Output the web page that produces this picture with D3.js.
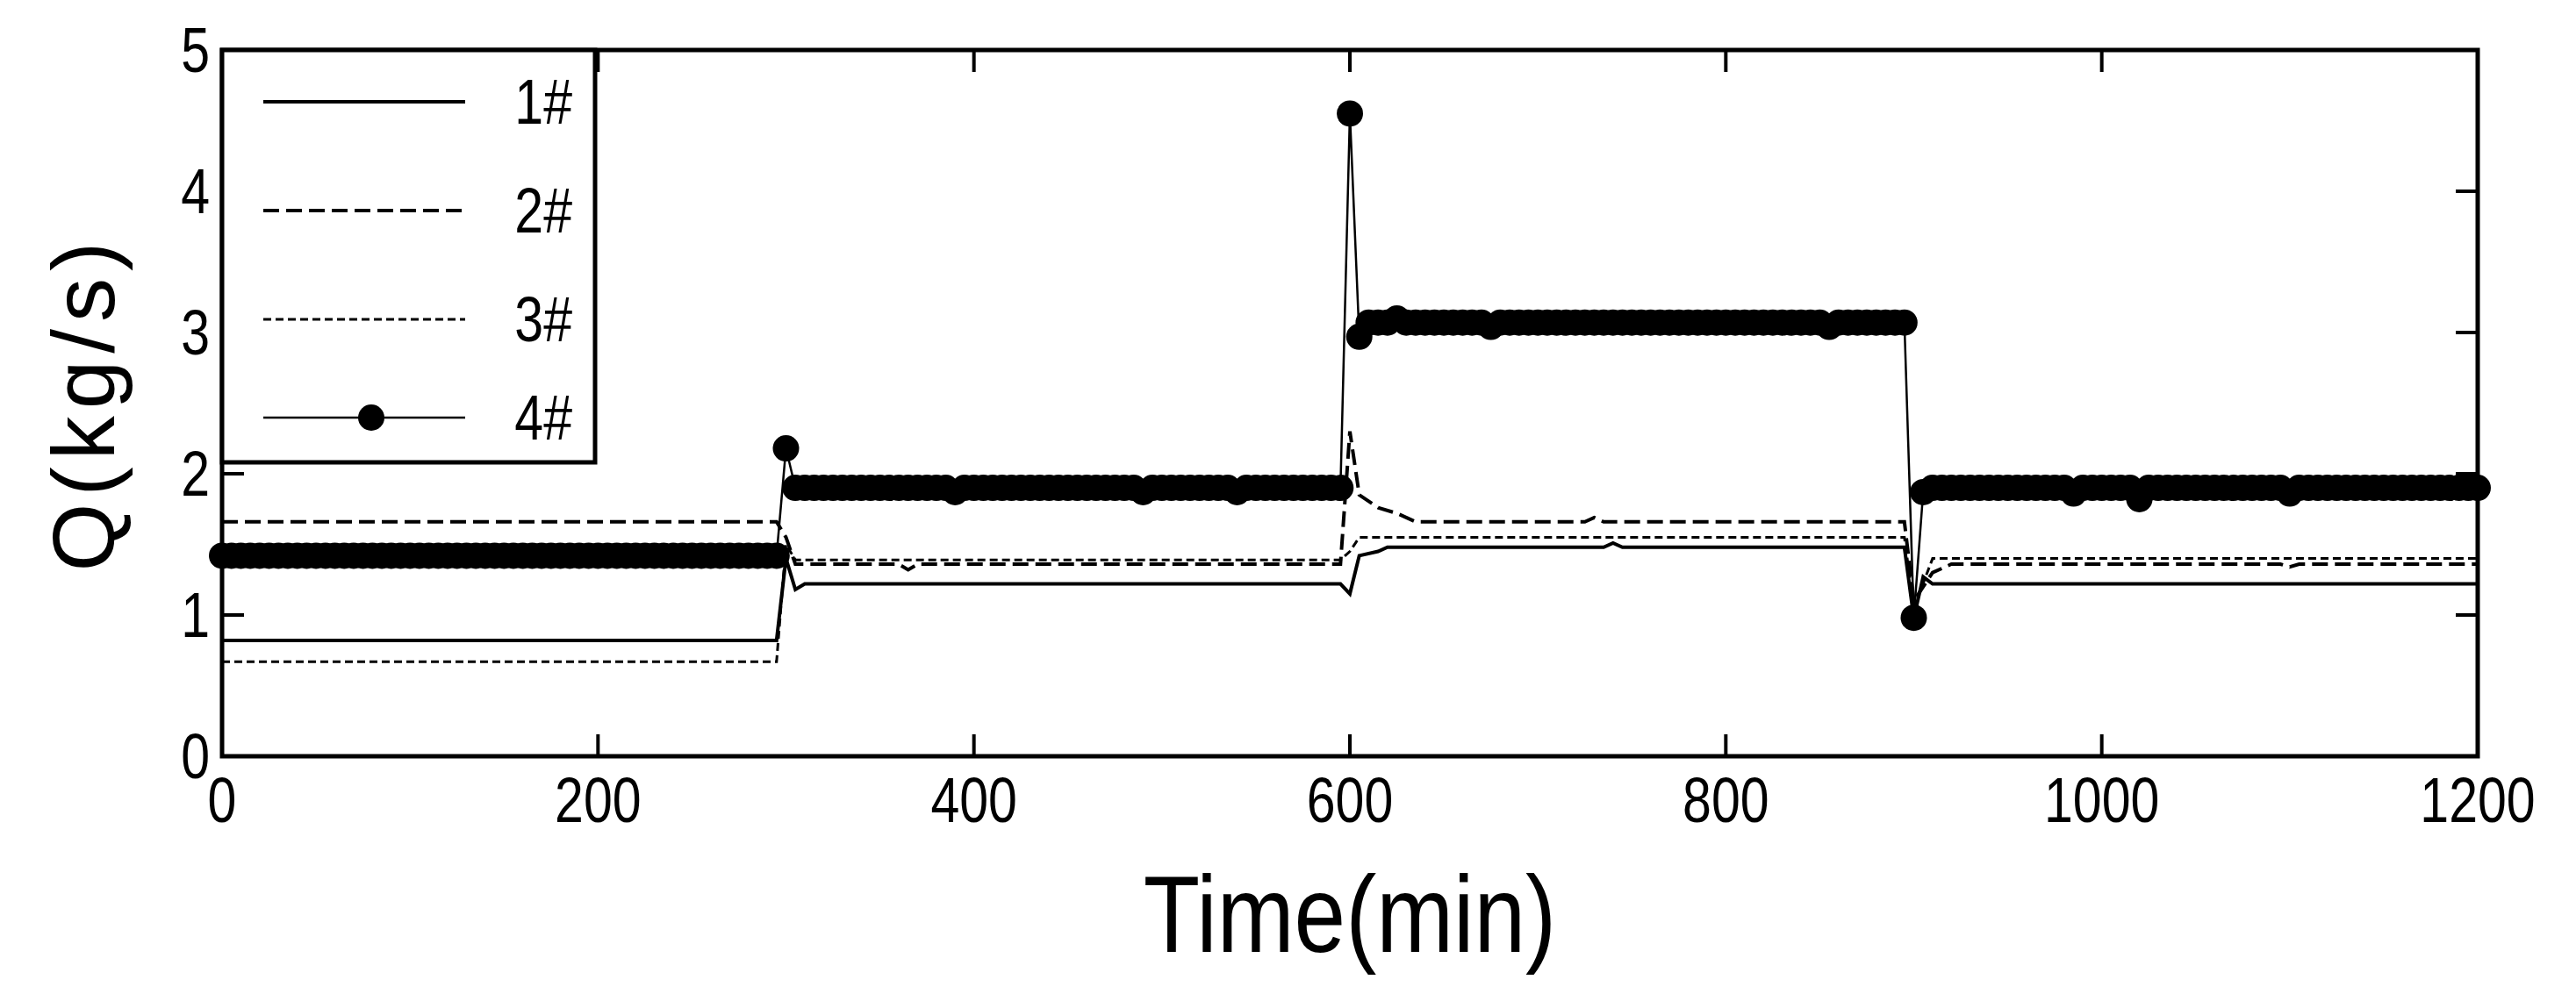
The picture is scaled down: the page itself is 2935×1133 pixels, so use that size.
<!DOCTYPE html>
<html><head><meta charset="utf-8">
<script src="https://cdn.jsdelivr.net/npm/d3@7"></script>
<style>body{margin:0;background:#fff}svg{display:block}text{font-family:"Liberation Sans",Arial,sans-serif}</style>
</head><body>
<svg id="chart" width="2935" height="1133"></svg>
<script>
// series 1-3 as breakpoints [time, value]
const s1 = [[0,0.82],[295,0.82],[300,1.4],[305,1.18],[310,1.22],[595,1.22],[600,1.15],[605,1.42],[615,1.45],[620,1.48],[735,1.48],[740,1.51],[745,1.48],[895,1.48],[900,0.98],[905,1.27],[910,1.22],[1200,1.22]];
const s2 = [[0,1.66],[295,1.66],[300,1.55],[305,1.36],[360,1.36],[365,1.32],[370,1.36],[595,1.36],[600,2.3],[605,1.85],[615,1.76],[625,1.72],[635,1.66],[725,1.66],[730,1.69],[735,1.66],[895,1.66],[900,1.1],[910,1.3],[920,1.36],[1095,1.36],[1100,1.34],[1105,1.36],[1200,1.36]];
const s3 = [[0,0.67],[295,0.67],[300,1.5],[305,1.39],[595,1.39],[600,1.45],[605,1.55],[895,1.55],[900,1.05],[910,1.4],[1200,1.4]];
// series 4, sampled every 5 min
const t4 = d3.range(0, 1201, 5);
const v4 = [
  1.42,1.42,1.42,1.42,1.42,1.42,1.42,1.42,1.42,1.42,
  1.42,1.42,1.42,1.42,1.42,1.42,1.42,1.42,1.42,1.42,
  1.42,1.42,1.42,1.42,1.42,1.42,1.42,1.42,1.42,1.42,
  1.42,1.42,1.42,1.42,1.42,1.42,1.42,1.42,1.42,1.42,
  1.42,1.42,1.42,1.42,1.42,1.42,1.42,1.42,1.42,1.42,
  1.42,1.42,1.42,1.42,1.42,1.42,1.42,1.42,1.42,1.42,
  2.18,1.9,1.9,1.9,1.9,1.9,1.9,1.9,1.9,1.9,
  1.9,1.9,1.9,1.9,1.9,1.9,1.9,1.9,1.87,1.9,
  1.9,1.9,1.9,1.9,1.9,1.9,1.9,1.9,1.9,1.9,
  1.9,1.9,1.9,1.9,1.9,1.9,1.9,1.9,1.87,1.9,
  1.9,1.9,1.9,1.9,1.9,1.9,1.9,1.9,1.87,1.9,
  1.9,1.9,1.9,1.9,1.9,1.9,1.9,1.9,1.9,1.9,
  4.55,2.97,3.07,3.07,3.07,3.1,3.07,3.07,3.07,3.07,
  3.07,3.07,3.07,3.07,3.07,3.04,3.07,3.07,3.07,3.07,
  3.07,3.07,3.07,3.07,3.07,3.07,3.07,3.07,3.07,3.07,
  3.07,3.07,3.07,3.07,3.07,3.07,3.07,3.07,3.07,3.07,
  3.07,3.07,3.07,3.07,3.07,3.07,3.07,3.07,3.07,3.07,
  3.07,3.04,3.07,3.07,3.07,3.07,3.07,3.07,3.07,3.07,
  0.98,1.87,1.9,1.9,1.9,1.9,1.9,1.9,1.9,1.9,
  1.9,1.9,1.9,1.9,1.9,1.9,1.9,1.86,1.9,1.9,
  1.9,1.9,1.9,1.9,1.82,1.9,1.9,1.9,1.9,1.9,
  1.9,1.9,1.9,1.9,1.9,1.9,1.9,1.9,1.9,1.9,
  1.86,1.9,1.9,1.9,1.9,1.9,1.9,1.9,1.9,1.9,
  1.9,1.9,1.9,1.9,1.9,1.9,1.9,1.9,1.9,1.9,
  1.9];
const xTicks = [0,200,400,600,800,1000,1200];
const yTicks = [0,1,2,3,4,5];
const labels = ["1#","2#","3#","4#"];

const svg = d3.select("#chart");
const L = 253, R = 2823, T = 57, B = 862;
const x = d3.scaleLinear().domain([0,1200]).range([L,R]);
const y = d3.scaleLinear().domain([0,5]).range([B,T]);
const line = d3.line().x(d => x(d[0])).y(d => y(d[1]));

const styles = [
  {dash:null, w:4},
  {dash:"18,8", w:4},
  {dash:"9,5", w:3},
  {dash:null, w:2.5}
];
[s1,s2,s3].forEach((s,i) => {
  svg.append("path").attr("d", line(s)).attr("fill","none").attr("stroke","#000")
    .attr("stroke-width", styles[i].w).attr("stroke-dasharray", styles[i].dash);
});
const d4 = t4.map((t,i) => [t, v4[i]]);
svg.append("path").attr("d", line(d4)).attr("fill","none").attr("stroke","#000").attr("stroke-width",2.5);
svg.selectAll("circle.m").data(d4).join("circle").attr("class","m")
  .attr("cx", d => x(d[0])).attr("cy", d => y(d[1])).attr("r", 15).attr("fill","#000");

// narrow text helper
function txt(g, px, py, s, size, anchor, sx) {
  return g.append("text").attr("transform", `translate(${px},${py}) scale(${sx},1)`)
    .attr("text-anchor", anchor).attr("font-size", size).text(s);
}

// frame and ticks
const ax = svg.append("g");
ax.append("rect").attr("x",L).attr("y",T).attr("width",R-L).attr("height",B-T)
  .attr("fill","none").attr("stroke","#000").attr("stroke-width",5);
const tl = 25;
xTicks.forEach(v => {
  ax.append("line").attr("x1",x(v)).attr("x2",x(v)).attr("y1",B).attr("y2",B-tl).attr("stroke","#000").attr("stroke-width",4);
  ax.append("line").attr("x1",x(v)).attr("x2",x(v)).attr("y1",T).attr("y2",T+tl).attr("stroke","#000").attr("stroke-width",4);
  txt(ax, x(v), B+75, v, 72, "middle", 0.82);
});
yTicks.forEach(v => {
  ax.append("line").attr("x1",L).attr("x2",L+tl).attr("y1",y(v)).attr("y2",y(v)).attr("stroke","#000").attr("stroke-width",4);
  ax.append("line").attr("x1",R).attr("x2",R-tl).attr("y1",y(v)).attr("y2",y(v)).attr("stroke","#000").attr("stroke-width",4);
  txt(ax, L-14, y(v)+25, v, 72, "end", 0.82);
});
txt(svg, (L+R)/2, 1085, "Time(min)", 124, "middle", 0.85);
svg.append("text").attr("transform",`translate(130,${(T+B)/2}) rotate(-90)`).attr("text-anchor","middle")
  .attr("font-size",100).attr("letter-spacing",8).text("Q(kg/s)");

// legend
const lg = svg.append("g");
lg.append("rect").attr("x",L).attr("y",T).attr("width",425).attr("height",470).attr("fill","#fff").attr("stroke","#000").attr("stroke-width",5);
const ly = [116,240,364,476];
labels.forEach((lab,i) => {
  lg.append("line").attr("x1",300).attr("x2",530).attr("y1",ly[i]).attr("y2",ly[i]).attr("stroke","#000")
    .attr("stroke-width",styles[i].w).attr("stroke-dasharray",styles[i].dash);
  if (i === 3) lg.append("circle").attr("cx",423).attr("cy",ly[i]).attr("r",15).attr("fill","#000");
  txt(lg, 652, ly[i]+25, lab, 72, "end", 0.82);
});
</script>
</body></html>
